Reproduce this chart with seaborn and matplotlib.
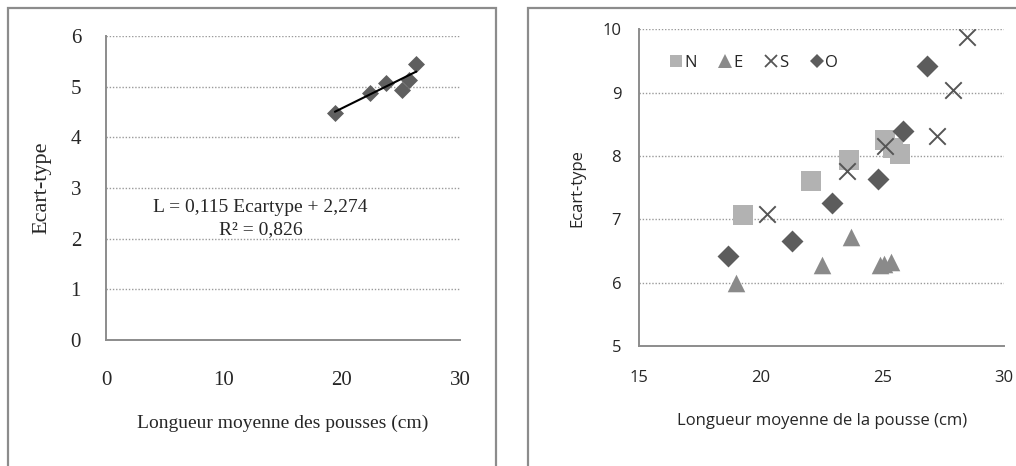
import matplotlib
matplotlib.use("Agg")
import matplotlib.pyplot as plt
from matplotlib.lines import Line2D
from matplotlib.patches import Rectangle
import numpy as np
import pandas as pd
import seaborn as sns

sns.set_style("white")

# Left panel: mean shoot length vs standard deviation (per-site means)
left_x = [19.4, 22.4, 23.7, 25.1, 25.7, 26.3]
left_y = [4.48, 4.87, 5.08, 4.93, 5.13, 5.45]
fit_slope = 0.115
fit_intercept = 2.274
fit_r2 = 0.826

# Right panel: one series per exposure
n_x = [19.25, 22.05, 23.62, 25.1, 25.42, 25.72]
n_y = [7.07, 7.61, 7.94, 8.26, 8.12, 8.03]
e_x = [18.98, 22.5, 23.7, 24.88, 25.08, 25.34]
e_y = [6.00, 6.28, 6.72, 6.28, 6.29, 6.32]
s_x = [20.24, 23.56, 25.12, 27.23, 27.89, 28.46]
s_y = [7.09, 7.76, 8.15, 8.31, 9.04, 9.88]
o_x = [18.66, 21.28, 22.91, 24.83, 25.84, 26.85]
o_y = [6.42, 6.65, 7.26, 7.64, 8.40, 9.42]

left_xticks = [0, 10, 20, 30]
left_yticks = [0, 1, 2, 3, 4, 5, 6]
right_xticks = [15, 20, 25, 30]
right_yticks = [5, 6, 7, 8, 9, 10]

W, H = 1016, 466
fig = plt.figure(figsize=(W / 100, H / 100), dpi=100)

def fx(px):
    return px / W

def fy(py):
    return 1 - py / H

# panel frames
frame_col = "#8c8c8c"
for x0, x1 in [(8, 496), (528, 1030)]:
    fig.patches.append(Rectangle((fx(x0), fy(480)), fx(x1 - x0), (480 - 8) / H,
                                 transform=fig.transFigure, fill=False,
                                 edgecolor=frame_col, linewidth=1.6, clip_on=False))

grid_kw = dict(color="#9a9a9a", linewidth=1.0, linestyle=(0, (1, 1.3)))
spine_col = "#8c8c8c"

# ---------- left panel ----------
serif = "Liberation Serif"
axl = fig.add_axes([fx(106), fy(340), fx(354), 304 / H])
sns.scatterplot(x=left_x, y=left_y, ax=axl, marker="D", s=75, color="#5f5f5f",
                edgecolor="#5f5f5f", linewidth=0, zorder=3)
xfit = np.array([min(left_x), max(left_x)])
axl.plot(xfit, fit_slope * xfit + fit_intercept, color="black", lw=1.5, zorder=4)
axl.set_xlim(0, 30)
axl.set_ylim(0, 6)
axl.set_xticks(left_xticks)
axl.set_yticks(left_yticks)
axl.set_xticklabels([str(v) for v in left_xticks], family=serif, fontsize=15)
axl.set_yticklabels([str(v) for v in left_yticks], family=serif, fontsize=15)
axl.tick_params(axis="both", length=0)
axl.tick_params(axis="y", pad=18)
axl.tick_params(axis="x", pad=22)
for v in left_yticks[1:]:
    axl.axhline(v, zorder=1, **grid_kw)
for sp in ["top", "right"]:
    axl.spines[sp].set_visible(False)
for sp in ["left", "bottom"]:
    axl.spines[sp].set_color(spine_col)
    axl.spines[sp].set_linewidth(1.4)
axl.set_xlabel("Longueur moyenne des pousses (cm)", family=serif, fontsize=14, labelpad=18)
axl.set_ylabel("Ecart-type", family=serif, fontsize=16, labelpad=14)
axl.text(13.1, 2.62, f"L = {fit_slope:.3f} Ecartype + {fit_intercept:.3f}".replace(".", ","),
         family=serif, fontsize=14, ha="center", va="center")
axl.text(13.1, 2.17, f"R² = {fit_r2:.3f}".replace(".", ","),
         family=serif, fontsize=14, ha="center", va="center")

# ---------- right panel ----------
sans = "Open Sans"
axr = fig.add_axes([fx(639.3), fy(346), fx(364.7), 316.7 / H])
series = [
    ("N", n_x, n_y, "s", "#b2b2b2", 220),
    ("E", e_x, e_y, "^", "#8a8a8a", 160),
    ("S", s_x, s_y, "x", "#555555", 140),
    ("O", o_x, o_y, "D", "#5c5c5c", 125),
]
for name, xs, ys, mk, col, size in series:
    df = pd.DataFrame({"x": xs, "y": ys})
    if mk == "x":
        sns.scatterplot(data=df, x="x", y="y", ax=axr, marker=mk, s=size, color=col,
                        linewidth=1.4, zorder=3)
    else:
        sns.scatterplot(data=df, x="x", y="y", ax=axr, marker=mk, s=size, color=col,
                        edgecolor=col, linewidth=0, zorder=3)
axr.set_xlim(15, 30)
axr.set_ylim(5, 10)
axr.set_xticks(right_xticks)
axr.set_yticks(right_yticks)
axr.set_xticklabels([str(v) for v in right_xticks], family=sans, fontsize=12)
axr.set_yticklabels([str(v) for v in right_yticks], family=sans, fontsize=12)
axr.tick_params(axis="y", direction="out", length=5, width=1.2, color=spine_col, pad=8)
axr.tick_params(axis="x", direction="inout", length=10, width=1.2, color=spine_col, pad=12)
for v in right_yticks[1:]:
    axr.axhline(v, zorder=1, **grid_kw)
for sp in ["top", "right"]:
    axr.spines[sp].set_visible(False)
for sp in ["left", "bottom"]:
    axr.spines[sp].set_color(spine_col)
    axr.spines[sp].set_linewidth(1.4)
axr.set_xlabel("Longueur moyenne de la pousse (cm)", family=sans, fontsize=12, labelpad=20)
axr.set_ylabel("Ecart-type", family=sans, fontsize=12, labelpad=12)

handles = [
    Line2D([], [], linestyle="none", marker="s", markersize=9, color="#b2b2b2", markeredgewidth=0),
    Line2D([], [], linestyle="none", marker="^", markersize=10, color="#8a8a8a", markeredgewidth=0),
    Line2D([], [], linestyle="none", marker="x", markersize=9, color="#555555", markeredgewidth=1.3),
    Line2D([], [], linestyle="none", marker="D", markersize=7, color="#5c5c5c", markeredgewidth=0),
]
axr.legend(handles, ["N", "E", "S", "O"], ncol=4, frameon=False,
           loc="center left", bbox_to_anchor=((671 - 639.3) / 364.7, 1 - (63 - 29.3) / 316.7),
           handlelength=0.6, handletextpad=0.2, columnspacing=1.4,
           prop={"family": sans, "size": 12}, borderaxespad=0, borderpad=0)

fig.savefig("out.png", dpi=100)
